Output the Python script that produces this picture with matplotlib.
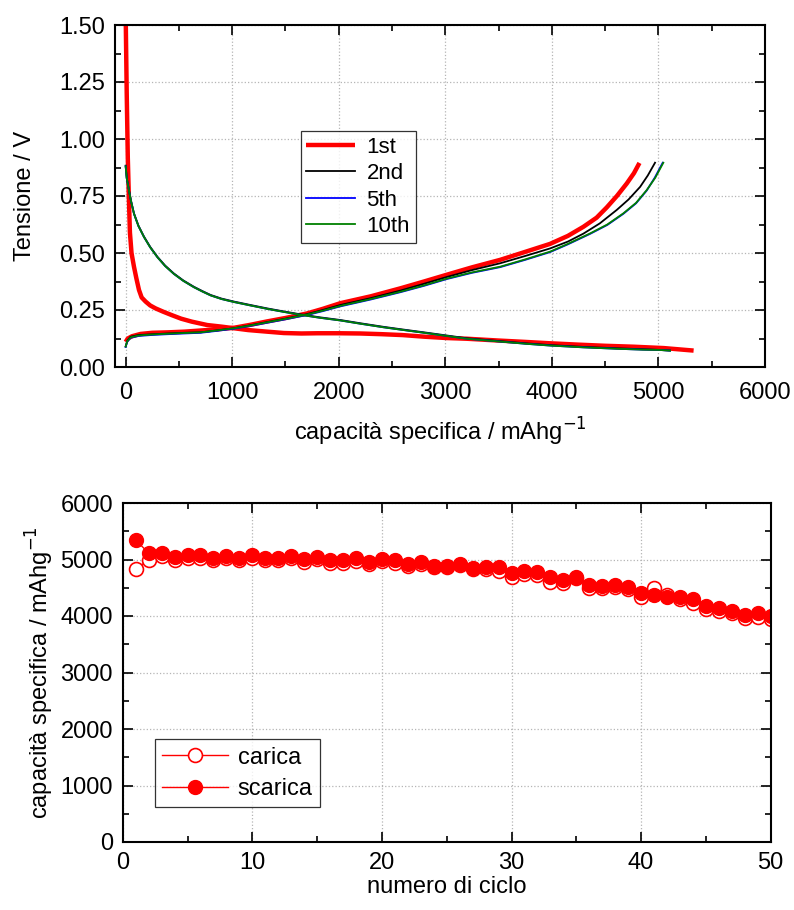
import matplotlib
matplotlib.use("Agg")
import matplotlib.pyplot as plt
from matplotlib import font_manager
from matplotlib.ticker import MultipleLocator, FormatStrFormatter

names = {f.name for f in font_manager.fontManager.ttflist}
fam = "Liberation Sans Narrow" if "Liberation Sans Narrow" in names else "Liberation Sans"
plt.rcParams['font.family'] = [fam, 'DejaVu Sans']

# ---------------- data: top panel (voltage profiles) ----------------
c1_dis_x = [0, 10, 20, 31, 40, 55, 78, 100, 125, 150, 187, 230, 281, 350, 430, 520, 620, 766, 900, 1016,
            1150, 1328, 1484, 1650, 1800, 2000, 2200, 2400, 2600, 2800, 3016, 3200, 3500, 3750, 3983,
            4250, 4500, 4765, 5050, 5330]
c1_dis_v = [1.55, 1.20, 0.92, 0.73, 0.59, 0.50, 0.44, 0.39, 0.338, 0.305, 0.287, 0.27, 0.257, 0.243,
            0.228, 0.212, 0.199, 0.184, 0.177, 0.17, 0.162, 0.155, 0.149, 0.147, 0.148, 0.148, 0.147,
            0.144, 0.14, 0.133, 0.127, 0.124, 0.116, 0.11, 0.104, 0.098, 0.093, 0.089, 0.083, 0.072]
c1_cha_x = [0, 20, 60, 140, 250, 400, 550, 703, 850, 1016, 1170, 1328, 1500, 1703, 1850, 2016, 2300,
            2578, 2800, 3016, 3250, 3515, 3750, 3983, 4150, 4296, 4420, 4515, 4610, 4703, 4770, 4822]
c1_cha_v = [0.11, 0.125, 0.135, 0.145, 0.15, 0.152, 0.155, 0.16, 0.165, 0.172, 0.185, 0.2, 0.215, 0.235,
            0.255, 0.28, 0.31, 0.345, 0.375, 0.405, 0.437, 0.47, 0.505, 0.54, 0.575, 0.615, 0.655, 0.70,
            0.75, 0.805, 0.85, 0.895]

dis_x = [0, 10, 31, 50, 78, 120, 172, 230, 297, 370, 453, 540, 640, 720, 797, 900, 1016, 1170, 1328,
         1480, 1640, 1820, 2016, 2200, 2422, 2577, 2800, 3016, 3202, 3500, 3750, 3983, 4300, 4609, 4850]
c2_dis_v = [0.883, 0.83, 0.776, 0.73, 0.674, 0.62, 0.572, 0.527, 0.484, 0.445, 0.41, 0.38, 0.352, 0.333,
            0.316, 0.30, 0.287, 0.272, 0.257, 0.244, 0.231, 0.218, 0.206, 0.192, 0.176, 0.166, 0.152,
            0.138, 0.126, 0.114, 0.104, 0.096, 0.088, 0.082, 0.078]
c5_dis_v = [0.880, 0.828, 0.774, 0.728, 0.672, 0.618, 0.570, 0.525, 0.482, 0.443, 0.408, 0.378, 0.350,
            0.331, 0.314, 0.298, 0.285, 0.270, 0.255, 0.242, 0.229, 0.216, 0.204, 0.190, 0.174, 0.164,
            0.150, 0.136, 0.124, 0.112, 0.102, 0.094, 0.086, 0.080, 0.076]
c10_dis_v = [0.880, 0.828, 0.774, 0.728, 0.672, 0.618, 0.570, 0.525, 0.482, 0.443, 0.408, 0.378, 0.350,
             0.331, 0.314, 0.298, 0.285, 0.270, 0.255, 0.242, 0.229, 0.216, 0.204, 0.190, 0.174, 0.164,
             0.150, 0.136, 0.124, 0.112, 0.102, 0.094, 0.086, 0.080, 0.076]
c2_dis_end = [5000, 5109]
c2_dis_end_v = [0.075, 0.072]

c2_cha_x = [0, 15, 47, 120, 234, 400, 550, 703, 850, 1016, 1170, 1328, 1500, 1703, 1850, 2016, 2300,
            2578, 2800, 3016, 3250, 3515, 3750, 3983, 4150, 4296, 4450, 4609, 4720, 4828, 4900, 4968]
c2_cha_v = [0.09, 0.115, 0.133, 0.14, 0.143, 0.147, 0.15, 0.152, 0.16, 0.17, 0.183, 0.197, 0.212, 0.232,
            0.25, 0.272, 0.302, 0.335, 0.365, 0.395, 0.425, 0.455, 0.487, 0.52, 0.55, 0.585, 0.63, 0.689,
            0.735, 0.79, 0.84, 0.896]
c5_cha_x = [0, 15, 47, 120, 234, 400, 550, 703, 850, 1016, 1170, 1328, 1500, 1703, 1850, 2016, 2300,
            2578, 2800, 3016, 3250, 3515, 3750, 3983, 4150, 4359, 4520, 4671, 4790, 4890, 4965, 5040]
c5_cha_v = [0.088, 0.111, 0.128, 0.136, 0.140, 0.144, 0.147, 0.150, 0.158, 0.168, 0.180, 0.194, 0.209,
            0.228, 0.245, 0.266, 0.296, 0.328, 0.356, 0.386, 0.413, 0.438, 0.470, 0.504, 0.538, 0.584,
            0.623, 0.672, 0.718, 0.774, 0.83, 0.896]
c10_cha_x = [0, 15, 47, 120, 234, 400, 550, 703, 850, 1016, 1170, 1328, 1500, 1703, 1850, 2016, 2300,
             2578, 2800, 3016, 3250, 3515, 3750, 3983, 4150, 4359, 4520, 4671, 4790, 4890, 4970, 5046]
c10_cha_v = [0.09, 0.113, 0.13, 0.138, 0.142, 0.146, 0.149, 0.152, 0.16, 0.17, 0.182, 0.196, 0.211, 0.23,
             0.247, 0.268, 0.298, 0.33, 0.358, 0.388, 0.415, 0.44, 0.472, 0.506, 0.54, 0.586, 0.625,
             0.674, 0.72, 0.776, 0.83, 0.896]

cycle_labels = ["1st", "2nd", "5th", "10th"]

# ---------------- data: bottom panel (cycling) ----------------
cycles = list(range(1, 51))
scarica = [5345, 5115, 5115, 5040, 5075, 5075, 5030, 5065, 5035, 5075,
           5030, 5035, 5065, 5005, 5050, 4990, 4985, 5020, 4955, 5005,
           4985, 4925, 4955, 4890, 4880, 4920, 4845, 4860, 4860, 4755,
           4790, 4775, 4684, 4645, 4685, 4550, 4525, 4550, 4520, 4400,
           4372, 4343, 4345, 4295, 4180, 4137, 4090, 4025, 4045, 4000]
carica = [4840, 4985, 5060, 5000, 5030, 5030, 4990, 5020, 4995, 5030,
          4985, 4990, 5020, 4960, 5005, 4945, 4945, 4975, 4915, 4965,
          4940, 4885, 4920, 4870, 4860, 4905, 4830, 4840, 4790, 4685,
          4740, 4725, 4610, 4580, 4670, 4500, 4490, 4510, 4480, 4345,
          4490, 4370, 4300, 4225, 4120, 4080, 4045, 3970, 3990, 3945]

FS = 17
W, H = 794, 910
fig = plt.figure(figsize=(W / 100, H / 100), dpi=100)

def style(ax, xpad):
    ax.tick_params(which='both', direction='in', top=True, right=True, labelsize=FS, width=1.2)
    ax.tick_params(which='major', length=7)
    ax.tick_params(which='minor', length=4)
    ax.tick_params(axis='x', which='both', pad=xpad)
    ax.tick_params(axis='y', which='both', pad=7)
    ax.grid(True, which='major', linestyle=':', color='#b5b5b5', linewidth=0.9)
    for s in ax.spines.values():
        s.set_linewidth(1.5)

# top axes
ax1 = fig.add_axes([115 / W, 1 - 367 / H, 650 / W, 342 / H])
ax1.plot(c1_dis_x, c1_dis_v, color='#ff0000', lw=3.2, label=cycle_labels[0], solid_capstyle='butt')
ax1.plot(c1_cha_x, c1_cha_v, color='#ff0000', lw=3.2, solid_capstyle='butt')
ax1.plot(dis_x + c2_dis_end, c2_dis_v + c2_dis_end_v, color='black', lw=1.3, label=cycle_labels[1])
ax1.plot(c2_cha_x, c2_cha_v, color='black', lw=1.3)
ax1.plot(dis_x + c2_dis_end, c5_dis_v + c2_dis_end_v, color='#0000ff', lw=1.3, label=cycle_labels[2])
ax1.plot(c5_cha_x, c5_cha_v, color='#0000ff', lw=1.3)
ax1.plot(dis_x + c2_dis_end, c10_dis_v + c2_dis_end_v, color='#008000', lw=1.3, label=cycle_labels[3])
ax1.plot(c10_cha_x, c10_cha_v, color='#008000', lw=1.3)
ax1.set_xlim(-100, 6000)
ax1.set_ylim(0, 1.5)
ax1.xaxis.set_major_locator(MultipleLocator(1000))
ax1.xaxis.set_minor_locator(MultipleLocator(500))
ax1.yaxis.set_major_locator(MultipleLocator(0.25))
ax1.yaxis.set_minor_locator(MultipleLocator(0.125))
ax1.yaxis.set_major_formatter(FormatStrFormatter('%.2f'))
style(ax1, 11)
ax1.set_xlabel('capacità specifica / mAhg$^{-1}$', fontsize=FS, va='center')
ax1.xaxis.set_label_coords(0.5, (367 - 432) / 342)
ax1.set_ylabel('Tensione / V', fontsize=FS, va='center')
ax1.yaxis.set_label_coords((25 - 115) / 650, 0.5)
leg1 = ax1.legend(loc='upper left', bbox_to_anchor=(0.286, 0.69), fontsize=16, frameon=True,
                  fancybox=False, edgecolor='black', handlelength=2.2, borderpad=0.25,
                  labelspacing=0.25, handletextpad=0.5, borderaxespad=0)
leg1.get_frame().set_linewidth(0.9)

# bottom axes
ax2 = fig.add_axes([122.7 / W, 1 - 842 / H, 648 / W, 339 / H])
ax2.plot(cycles, carica, color='#ff0000', lw=1.0, marker='o', markersize=10,
         markerfacecolor='white', markeredgecolor='#ff0000', markeredgewidth=1.2, label='carica')
ax2.plot(cycles, scarica, color='#ff0000', lw=1.0, marker='o', markersize=10,
         markerfacecolor='#ff0000', markeredgecolor='#ff0000', label='scarica')
ax2.set_xlim(0, 50)
ax2.set_ylim(0, 6000)
ax2.xaxis.set_major_locator(MultipleLocator(10))
ax2.xaxis.set_minor_locator(MultipleLocator(5))
ax2.yaxis.set_major_locator(MultipleLocator(1000))
ax2.yaxis.set_minor_locator(MultipleLocator(500))
style(ax2, 7)
ax2.set_xlabel('numero di ciclo', fontsize=FS, va='center')
ax2.xaxis.set_label_coords(0.5, (842 - 887) / 339)
ax2.set_ylabel('capacità specifica / mAhg$^{-1}$', fontsize=FS, va='center')
ax2.yaxis.set_label_coords((40 - 122.7) / 648, 0.5)
leg2 = ax2.legend(loc='lower left', bbox_to_anchor=(0.05, 0.103), fontsize=17, frameon=True,
                  fancybox=False, edgecolor='black', handlelength=2.8, borderpad=0.3,
                  labelspacing=0.4, handletextpad=0.4, borderaxespad=0)
leg2.get_frame().set_linewidth(0.9)

fig.savefig('out.png', dpi=100)
